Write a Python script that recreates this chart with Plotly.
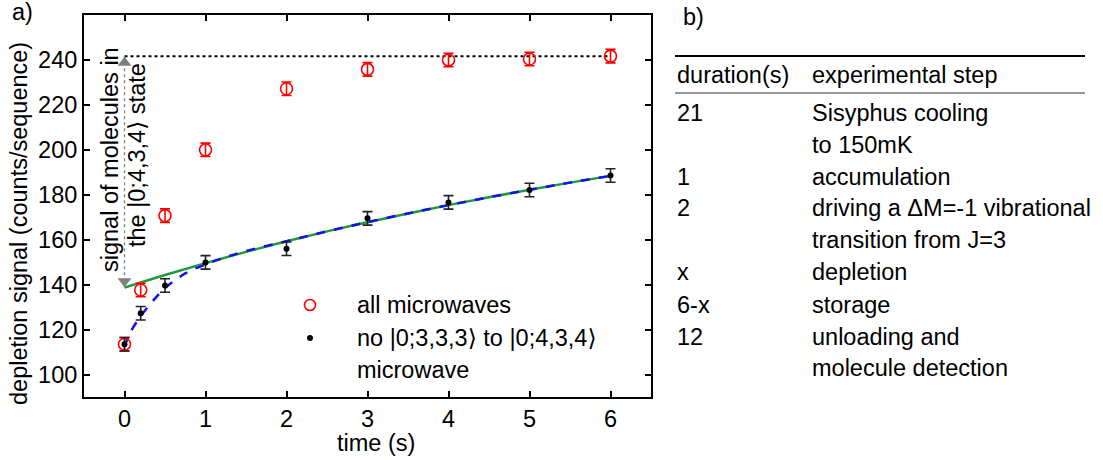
import plotly.graph_objects as go

# --- measured depletion signal -------------------------------------------
t_all = [0.0, 0.2, 0.5, 1.0, 2.0, 3.0, 4.0, 5.0, 6.0]
sig_all = [113.5, 137.6, 170.7, 200.0, 227.2, 235.8, 240.0, 240.4, 241.7]
err_all = [3, 3, 3, 3, 3, 3, 3, 3, 3]

t_no = [0.0, 0.2, 0.5, 1.0, 2.0, 3.0, 4.0, 5.0, 6.0]
sig_no = [113.5, 127.3, 139.6, 149.9, 156.0, 169.5, 176.6, 182.1, 188.6]
err_no = [3, 3, 3, 3, 3, 3, 3, 3, 3]

# --- model curves ----------------------------------------------------------
t_fit_g = [0.0, 0.5, 1.0, 1.5, 2.0, 2.5, 3.0, 3.5, 4.0, 4.5, 5.0, 5.5, 6.0]
sig_fit_g = [138.7, 144.3, 149.6, 154.6, 159.3, 163.7, 167.8, 171.7, 175.4,
             178.9, 182.2, 185.4, 188.4]

t_fit_b = [0.0, 0.05, 0.1, 0.2, 0.3, 0.4, 0.5, 0.75, 1.0, 1.25, 1.5, 2.0,
           2.5, 3.0, 3.5, 4.0, 4.5, 5.0, 5.5, 6.0]
sig_fit_b = [112.5, 117.0, 120.5, 126.0, 130.5, 134.8, 138.5, 145.0, 149.0,
             152.2, 155.0, 159.3, 163.7, 167.8, 171.7, 175.4, 178.9, 182.2,
             185.4, 188.4]

plateau = 241.6          # saturated signal level
x_ticks = [0, 1, 2, 3, 4, 5, 6]
y_ticks = [100, 120, 140, 160, 180, 200, 220, 240]

# --- sequence table --------------------------------------------------------
durations = ["21", "", "1", "2", "", "x", "6-x", "12", ""]
steps = ["Sisyphus cooling", "to 150mK", "accumulation",
         "driving a ΔM=-1 vibrational", "transition from J=3", "depletion",
         "storage", "unloading and", "molecule detection"]

FONT = "Liberation Sans, Arial, DejaVu Sans, sans-serif"
FS = 23.5
W, H = 1103, 460
X0, X1 = 84, 651     # plot box, px
Y0, Y1 = 15, 397

def px(x):
    return x / W

def py(y):
    return 1 - y / H

fig = go.Figure()

fig.add_trace(go.Scatter(
    x=[0, 6], y=[plateau, plateau], mode="lines",
    line=dict(color="black", width=2, dash="dot"), hoverinfo="skip"))

fig.add_trace(go.Scatter(
    x=[0, 0], y=[plateau, sig_fit_g[0]], mode="lines",
    line=dict(color="#808080", width=1.3, dash="dot"), hoverinfo="skip"))
fig.add_trace(go.Scatter(
    x=[0, 0], y=[plateau - 2.8, sig_fit_g[0] + 2.8], mode="markers",
    marker=dict(symbol=["triangle-up", "triangle-down"], size=12,
                color="#7f7f7f", line=dict(width=0)),
    hoverinfo="skip"))

fig.add_trace(go.Scatter(
    x=t_fit_g, y=sig_fit_g, mode="lines", line_shape="spline",
    line=dict(color="#1e9a3c", width=2.5), hoverinfo="skip"))
fig.add_trace(go.Scatter(
    x=t_fit_b, y=sig_fit_b, mode="lines", line_shape="spline",
    line=dict(color="#1010f0", width=2.5, dash="dash"), hoverinfo="skip"))

fig.add_trace(go.Scatter(
    x=t_all, y=sig_all, mode="markers",
    marker=dict(symbol="circle-open", size=12, color="red",
                line=dict(width=1.6, color="red")),
    error_y=dict(type="data", array=err_all, color="red",
                 thickness=1.6, width=5)))
fig.add_trace(go.Scatter(
    x=t_no, y=sig_no, mode="markers",
    marker=dict(symbol="circle", size=6, color="black"),
    error_y=dict(type="data", array=err_no, color="#222222",
                 thickness=1.6, width=5)))

axis_common = dict(
    showgrid=False, zeroline=False, showline=True, linecolor="black",
    linewidth=2, mirror="allticks", ticks="inside", ticklen=6,
    tickwidth=1.5, tickcolor="black",
    tickfont=dict(family=FONT, size=FS, color="black"))

fig.update_xaxes(range=[-0.5, 6.5], tickvals=x_ticks,
                 domain=[px(X0), px(X1)], **axis_common)
fig.update_yaxes(range=[90, 260], tickvals=y_ticks,
                 domain=[py(Y1), py(Y0)], **axis_common)

ann = []
# axis titles
ann.append(dict(x=376, y=443, text="time (s)"))
ann.append(dict(x=19, y=224, rot=True,
                text="depletion signal (counts/sequence)"))
# rotated label along the arrow
ann.append(dict(x=110, y=160, rot=True, text="signal of molecules in"))
ann.append(dict(x=137, y=155, rot=True, text="the |0;4,3,4⟩ state"))
# legend
ann.append(dict(x=355, y=305, text="all microwaves", xanchor="left"))
ann.append(dict(x=355, y=338, text="no |0;3,3,3⟩ to |0;4,3,4⟩", xanchor="left"))
ann.append(dict(x=355, y=370, text="microwave", xanchor="left"))
# panel letters
ann.append(dict(x=10, y=12, text="a)", xanchor="left"))
ann.append(dict(x=681, y=17, text="b)", xanchor="left"))
# table
ann.append(dict(x=675, y=75, text="duration(s)", xanchor="left"))
ann.append(dict(x=810, y=75, text="experimental step", xanchor="left"))
row_y = [113, 145, 177, 208, 240, 272, 305, 337, 368]
for yy, d, s in zip(row_y, durations, steps):
    if d:
        ann.append(dict(x=675, y=yy, text=d, xanchor="left"))
    ann.append(dict(x=810, y=yy, text=s, xanchor="left"))

annotations = []
for a in ann:
    annotations.append(dict(
        x=px(a["x"]), y=py(a["y"]), xref="paper", yref="paper",
        text=a["text"], xanchor=a.get("xanchor", "center"), yanchor="middle",
        textangle=-90 if a.get("rot") else 0,
        showarrow=False, font=dict(family=FONT, size=FS, color="black")))

shapes = [
    # table rules
    dict(type="line", xref="paper", yref="paper", x0=px(675), x1=px(1085),
         y0=py(56), y1=py(56), line=dict(color="black", width=2)),
    dict(type="line", xref="paper", yref="paper", x0=px(675), x1=px(1085),
         y0=py(93), y1=py(93), line=dict(color="#333333", width=1)),
    # legend symbols
    dict(type="circle", xref="paper", yref="paper", xsizemode="pixel",
         ysizemode="pixel", xanchor=px(310), yanchor=py(305),
         x0=-5.5, x1=5.5, y0=-5.5, y1=5.5, line=dict(color="red", width=1.6)),
    dict(type="circle", xref="paper", yref="paper", xsizemode="pixel",
         ysizemode="pixel", xanchor=px(310), yanchor=py(338),
         x0=-3, x1=3, y0=-3, y1=3, fillcolor="black",
         line=dict(color="black", width=0)),
]

fig.update_layout(
    width=W, height=H, margin=dict(l=0, r=0, t=0, b=0, autoexpand=False),
    paper_bgcolor="white", plot_bgcolor="white", showlegend=False,
    font=dict(family=FONT, size=FS, color="black"),
    annotations=annotations, shapes=shapes)

fig.write_html("out.html")
